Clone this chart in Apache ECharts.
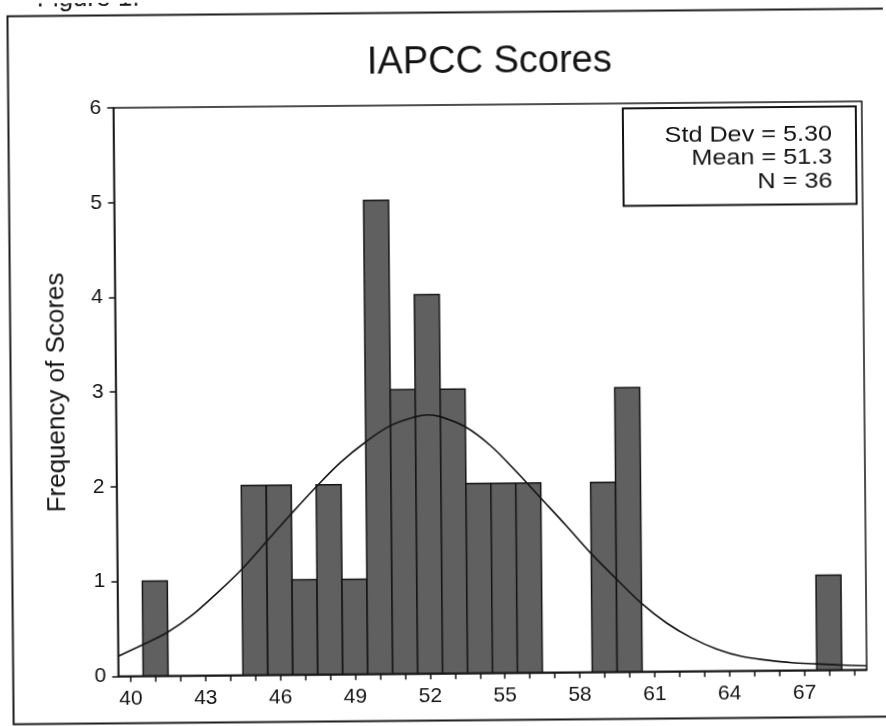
<!DOCTYPE html>
<html>
<head>
<meta charset="utf-8">
<script src="https://cdn.jsdelivr.net/npm/echarts@6/dist/echarts.min.js"></script>
<style>
  html, body { margin: 0; padding: 0; background: #ffffff; overflow: hidden; }
  #chart { width: 886px; height: 726px; transform: rotate(-0.5deg); transform-origin: 50% 50%; }
</style>
</head>
<body>
<div id="chart"></div>
<script>
// ---- data ----
const titleText = 'IAPCC Scores';
const figureCaption = 'Figure 1.';
const yAxisTitle = 'Frequency of Scores';
const statsLines = ['Std Dev = 5.30', 'Mean = 51.3', 'N = 36'];

// histogram bins (bin centre as drawn, frequency)
const binCentres = [41, 45, 46, 47, 48, 49, 50, 51, 52, 53, 54, 55, 56, 59, 60, 68];
const binCounts  = [1,  2,  2,  1,  2,  1,  5,  3,  4,  3,  2,  2,  2,  2,  3,  1];

// fitted normal curve
const curveX = [39.5, 40.5, 41.5, 42.5, 43.5, 44.5, 45.5, 46.5, 47.5, 48.5, 49.5, 50.5, 51.5, 52.0, 52.5, 53.5, 54.5, 55.5, 56.5, 57.5, 58.5, 59.5, 60.5, 61.5, 62.5, 63.5, 64.5, 65.5, 66.5, 67.5, 68.5, 69.5];
const curveY = [0.21, 0.33, 0.46, 0.64, 0.87, 1.12, 1.41, 1.70, 1.98, 2.24, 2.45, 2.62, 2.71, 2.73, 2.71, 2.60, 2.40, 2.13, 1.84, 1.55, 1.25, 0.98, 0.72, 0.51, 0.35, 0.23, 0.15, 0.11, 0.08, 0.065, 0.05, 0.04];

// axis ticks and labels
const xTickValues  = [40, 41, 42, 43, 44, 45, 46, 47, 48, 49, 50, 51, 52, 53, 54, 55, 56, 57, 58, 59, 60, 61, 62, 63, 64, 65, 66, 67, 68, 69];
const xTickLabels  = [40, 43, 46, 49, 52, 55, 58, 61, 64, 67];
const yTickLabels  = [0, 1, 2, 3, 4, 5, 6];

// ---- chart ----
const FONT = '"Liberation Sans", Arial, Helvetica, sans-serif';
const INK = '#141414';

const chart = echarts.init(document.getElementById('chart'), null, { renderer: 'canvas' });

const histData = binCentres.map((c, i) => [c, binCounts[i]]);
const curveData = curveX.map((x, i) => [x, curveY[i]]);

function statText(i, y) {
  return { type: 'text', silent: true, z: 11, x: 834, y: y, scaleX: 1.12,
    style: { text: statsLines[i], font: '22.5px ' + FONT, fill: INK, align: 'right', verticalAlign: 'middle' } };
}

const option = {
  backgroundColor: '#ffffff',
  animation: false,
  grid: {
    left: 115.5, right: 22, top: 105, bottom: 52.7,
    show: true, borderColor: INK, borderWidth: 1.5, backgroundColor: 'transparent'
  },
  xAxis: {
    type: 'value', min: 39.5, max: 69.5,
    axisLine: { show: true, onZero: false, lineStyle: { color: INK, width: 1.5 } },
    axisTick: { show: true, length: 6, customValues: xTickValues, lineStyle: { color: INK, width: 1.5 } },
    axisLabel: { customValues: xTickLabels, margin: 12, color: INK, fontSize: 21, fontFamily: FONT },
    splitLine: { show: false }
  },
  yAxis: {
    type: 'value', min: 0, max: 6, interval: 1,
    name: yAxisTitle, nameLocation: 'middle', nameGap: 46, nameRotate: 90,
    nameTextStyle: { color: INK, fontSize: 26, fontFamily: FONT },
    axisLine: { show: true, lineStyle: { color: INK, width: 1.5 } },
    axisTick: { show: true, length: 6, lineStyle: { color: INK, width: 1.5 } },
    axisLabel: { margin: 12, color: INK, fontSize: 21, fontFamily: FONT,
      formatter: v => (yTickLabels.indexOf(v) >= 0 ? String(v) : '') },
    splitLine: { show: false }
  },
  series: [
    {
      type: 'custom',
      data: histData,
      encode: { x: 0, y: 1 },
      clip: true,
      z: 2,
      renderItem: function (params, api) {
        const c = api.value(0), v = api.value(1);
        const p0 = api.coord([c - 0.5, v]);
        const p1 = api.coord([c + 0.5, 0]);
        return {
          type: 'rect',
          shape: { x: p0[0], y: p0[1], width: p1[0] - p0[0], height: p1[1] - p0[1] },
          style: { fill: '#606060', stroke: INK, lineWidth: 1.5 }
        };
      }
    },
    {
      type: 'line',
      data: curveData,
      smooth: 0.35,
      showSymbol: false,
      clip: true,
      z: 5,
      lineStyle: { color: INK, width: 1.6 }
    }
  ],
  graphic: [
    { type: 'rect', silent: true, z: 10,
      shape: { x: 10.5, y: 12.5, width: 905, height: 708 },
      style: { fill: 'none', stroke: '#1c1c1c', lineWidth: 2 } },
    { type: 'text', silent: true, z: 10, x: 40, y: 9,
      style: { text: figureCaption, font: '26px ' + FONT, fill: INK, align: 'left', verticalAlign: 'bottom' } },
    { type: 'text', silent: true, z: 10, x: 492, y: 63,
      style: { text: titleText, font: '38px ' + FONT, fill: INK, align: 'center', verticalAlign: 'middle' } },
    { type: 'rect', silent: true, z: 10,
      shape: { x: 625, y: 110, width: 233, height: 97.5 },
      style: { fill: '#ffffff', stroke: INK, lineWidth: 2 } },
    statText(0, 137.5),
    statText(1, 161),
    statText(2, 184.5)
  ]
};

chart.setOption(option);
</script>
</body>
</html>
